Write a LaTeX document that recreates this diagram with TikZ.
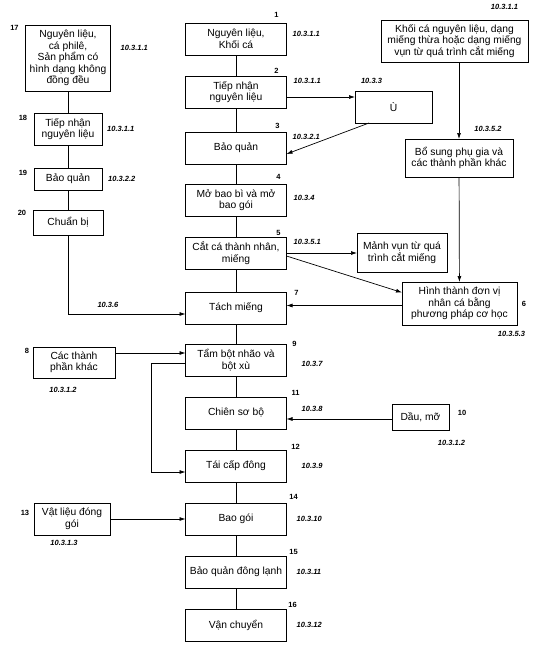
\documentclass[tikz,border=0pt]{standalone}
\usepackage{fontspec}
\setmainfont{Liberation Sans}
\usetikzlibrary{positioning,arrows.meta,calc}
\tikzset{
  qt-box/.style={
    draw=black, line width=0.7pt, align=center, inner sep=2pt, outer sep=0pt,
    font=\fontsize{10.3}{11.5}\selectfont,
    minimum width=101pt, minimum height=32pt
  },
  qt-link/.style={line width=0.7pt, draw=black},
  qt-flow/.style={-{Latex[length=6pt,width=4pt]}, line width=0.7pt, draw=black},
  qt-num/.style={font=\fontsize{7.5}{8}\selectfont\bfseries, inner sep=1pt},
  qt-sec/.style={font=\fontsize{7.5}{8}\selectfont\bfseries\itshape, inner sep=1pt}
}

\begin{document}
\begin{tikzpicture}[x=1pt, y=-1pt]
\useasboundingbox (0,0) rectangle (546,654);

% main column
\node[qt-box] (nl) at (236,39) {Nguyên liệu,\\ Khối cá};
\node[qt-box, below=21pt of nl] (tiep) {Tiếp nhận\\ nguyên liệu};
\node[qt-box, below=24pt of tiep] (bq) {Bảo quản};
\node[qt-box, below=20pt of bq] (mo) {Mở bao bì và mở\\ bao gói};
\node[qt-box, below=21pt of mo] (cat) {Cắt cá thành nhân,\\ miếng};
\node[qt-box, below=23pt of cat] (tach) {Tách miếng};
\node[qt-box, below=20pt of tach] (tam) {Tẩm bột nhão và\\ bột xù};
\node[qt-box, below=21pt of tam] (chien) {Chiên sơ bộ};
\node[qt-box, below=21pt of chien] (tai) {Tái cấp đông};
\node[qt-box, below=21pt of tai] (goi) {Bao gói};
\node[qt-box, below=21pt of goi] (bqdl) {Bảo quản đông lạnh};
\node[qt-box, below=21pt of bqdl] (vc) {Vận chuyển};

% left column
\node[qt-box, minimum width=85pt, minimum height=66pt] (nlphi) at (68,58)
  {Nguyên liệu,\\ cá philê,\\ Sản phẩm có\\ hình dạng không\\ đồng đều};
\node[qt-box, minimum width=68pt, below=22pt of nlphi] (tiepL) {Tiếp nhận\\ nguyên liệu};
\node[qt-box, minimum width=68pt, minimum height=22pt, below=23pt of tiepL] (bqL) {Bảo quản};
\node[qt-box, minimum width=70pt, minimum height=25pt, below=20pt of bqL] (chuan) {Chuẩn bị};
\node[qt-box, minimum width=82pt, minimum height=31pt] (cac) at (74,362.5) {Các thành\\ phần khác};
\node[qt-box, minimum width=76pt] (vl) at (72,519) {Vật liệu đóng\\ gói};

% right side
\node[qt-box, minimum width=147pt, minimum height=42pt] (khoi) at (454.5,41)
  {Khối cá nguyên liệu, dạng\\ miếng thừa hoặc dạng miếng\\ vụn từ quá trình cắt miếng};
\node[qt-box, minimum width=77pt] (u) at (393.5,107) {Ù};
\node[qt-box, minimum width=108pt, minimum height=38pt] (bosung) at (459,158)
  {Bổ sung phụ gia và\\ các thành phần khác};
\node[qt-box, minimum width=90pt, minimum height=39pt] (manh) at (402,252.5)
  {Mảnh vụn từ quá\\ trình cắt miếng};
\node[qt-box, minimum width=115pt, minimum height=43pt] (hinh) at (459.5,303.5)
  {Hình thành đơn vị\\ nhân cá bằng\\ phương pháp cơ học};
\node[qt-box, minimum width=57pt, minimum height=26pt] (dau) at (420.5,417) {Dầu, mỡ};

% step numbers
\node[qt-num] at ([shift={(-10pt,8pt)}]nl.north east) {1};
\node[qt-num] at ([shift={(-10pt,5pt)}]tiep.north east) {2};
\node[qt-num] at ([shift={(-9pt,6pt)}]bq.north east) {3};
\node[qt-num] at ([shift={(-8pt,7pt)}]mo.north east) {4};
\node[qt-num] at ([shift={(-8pt,4pt)}]cat.north east) {5};
\node[qt-num] at ([shift={(7pt,0pt)}]hinh.east) {6};
\node[qt-num] at ([shift={(10pt,-1pt)}]tach.north east) {7};
\node[qt-num] at ([shift={(-6pt,-4pt)}]cac.north west) {8};
\node[qt-num] at ([shift={(8pt,0pt)}]tam.north east) {9};
\node[qt-num] at ([shift={(13pt,4pt)}]dau.east) {10};
\node[qt-num] at ([shift={(9pt,4pt)}]chien.north east) {11};
\node[qt-num] at ([shift={(9pt,3pt)}]tai.north east) {12};
\node[qt-num] at ([shift={(-9pt,6pt)}]vl.west) {13};
\node[qt-num] at ([shift={(7pt,6pt)}]goi.north east) {14};
\node[qt-num] at ([shift={(7pt,4pt)}]bqdl.north east) {15};
\node[qt-num] at ([shift={(6pt,4pt)}]vc.north east) {16};
\node[qt-num] at ([shift={(-11pt,-3pt)}]nlphi.north west) {17};
\node[qt-num] at ([shift={(-11pt,-5pt)}]tiepL.north west) {18};
\node[qt-num] at ([shift={(-11pt,-5pt)}]bqL.north west) {19};
\node[qt-num] at ([shift={(-11pt,-3pt)}]chuan.north west) {20};

% clause references
\node[qt-sec, right=5pt of nl, yshift=5pt] {10.3.1.1};
\node[qt-sec, right=6pt of tiep, yshift=11pt] {10.3.1.1};
\node[qt-sec, right=5pt of bq, yshift=11pt] {10.3.2.1};
\node[qt-sec, right=6pt of mo, yshift=2pt] {10.3.4};
\node[qt-sec, right=6pt of cat, yshift=11pt] {10.3.5.1};
\node[qt-sec, right=14pt of tam, yshift=-4pt] {10.3.7};
\node[qt-sec, right=14pt of chien, yshift=4pt] {10.3.8};
\node[qt-sec, right=14pt of tai] {10.3.9};
\node[qt-sec, right=9pt of goi] {10.3.10};
\node[qt-sec, right=9pt of bqdl] {10.3.11};
\node[qt-sec, right=9pt of vc] {10.3.12};
\node[qt-sec, right=9pt of nlphi, yshift=10pt] {10.3.1.1};
\node[qt-sec, right=4pt of tiepL] {10.3.1.1};
\node[qt-sec, right=5pt of bqL] {10.3.2.2};
\node[qt-sec, below=8pt of cac, xshift=-11pt] {10.3.1.2};
\node[qt-sec, below=4pt of vl, xshift=-8pt] {10.3.1.3};
\node[qt-sec, below=9pt of dau, xshift=31pt] {10.3.1.2};
\node[qt-sec, below=5pt of hinh, xshift=52pt] {10.3.5.3};
\node[qt-sec, above=9pt of khoi, xshift=50pt] {10.3.1.1};
\node[qt-sec, above=6pt of u, xshift=-22pt] {10.3.3};
\node[qt-sec, above=6pt of bosung, xshift=29pt] {10.3.5.2};

% main flow
\draw[qt-link] (nl) -- (tiep);
\draw[qt-link] (tiep) -- (bq);
\draw[qt-link] (bq) -- (mo);
\draw[qt-link] (mo) -- (cat);
\draw[qt-link] (cat) -- (tach);
\draw[qt-link] (tach) -- (tam);
\draw[qt-link] (tam) -- (chien);
\draw[qt-link] (chien) -- (tai);
\draw[qt-link] (tai) -- (goi);
\draw[qt-link] (goi) -- (bqdl);
\draw[qt-link] (bqdl) -- (vc);

% left flow
\draw[qt-link] (nlphi) -- (tiepL);
\draw[qt-link] (tiepL) -- (bqL);
\draw[qt-link] (bqL) -- (chuan);
\draw[qt-flow] (chuan) |- node[qt-sec, above=5pt, pos=0.67]{10.3.6} ([yshift=-6pt]tach.west);
\draw[qt-flow] ([yshift=7pt]tam.west -| cac.east) -- ([yshift=7pt]tam.west);
\draw[qt-flow] ([yshift=-3pt]tam.west) -- ++(-34pt,0) |- ([yshift=-6pt]tai.west);
\draw[qt-flow] (vl) -- (goi);

% right flow
\draw[qt-flow] ([yshift=-5pt]tiep.east) -- ([yshift=-5pt]tiep.east -| u.west);
\draw[qt-flow] ([xshift=14pt]u.south west) -- ([yshift=-6pt]bq.east);
\draw[qt-flow] (khoi.south -| bosung.north) -- (bosung.north);
\draw[qt-flow] (bosung) -- (hinh);
\draw[qt-flow] (cat.east) -- (cat.east -| manh.west);
\draw[qt-flow] ([yshift=-3pt]cat.east) -- ([yshift=11pt]hinh.west);
\draw[qt-flow] ([yshift=-2pt]hinh.west) -- ([yshift=-2pt]hinh.west -| tach.east);
\draw[qt-flow] ([yshift=-2pt]dau.west) -- ([yshift=-2pt]dau.west -| chien.east);
\end{tikzpicture}
\end{document}
